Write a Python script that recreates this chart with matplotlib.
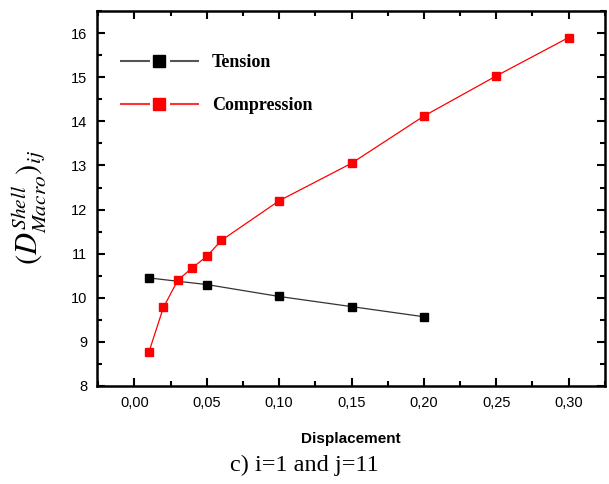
import matplotlib.pyplot as plt
from matplotlib.lines import Line2D
from matplotlib.ticker import MultipleLocator, FuncFormatter

# data
tension_x = [0.01, 0.05, 0.10, 0.15, 0.20]
tension_y = [10.45, 10.30, 10.03, 9.80, 9.57]

compression_x = [0.01, 0.02, 0.03, 0.04, 0.05, 0.06, 0.10, 0.15, 0.20, 0.25, 0.30]
compression_y = [8.77, 9.78, 10.40, 10.68, 10.94, 11.30, 12.20, 13.05, 14.12, 15.03, 15.90]

plt.rcParams['font.family'] = ['Liberation Sans', 'DejaVu Sans']
plt.rcParams['mathtext.fontset'] = 'stix'
plt.rcParams['lines.scale_dashes'] = False

fig = plt.figure(figsize=(6.09, 4.84), dpi=100)
ax = fig.add_axes([0.159, 0.2025, 0.834, 0.7745])

ax.plot(tension_x, tension_y, c="#333333", lw=0.9, marker="s", ms=5.5,
        mfc="black", mec="black")
ax.plot(compression_x, compression_y, c="red", lw=0.9, marker="s", ms=5.5,
        mfc="red", mec="red")

ax.set_xlim(-0.026, 0.325)
ax.set_ylim(8, 16.5)
ax.xaxis.set_major_locator(MultipleLocator(0.05))
ax.xaxis.set_minor_locator(MultipleLocator(0.025))
ax.yaxis.set_major_locator(MultipleLocator(1))
ax.yaxis.set_minor_locator(MultipleLocator(0.5))
ax.xaxis.set_major_formatter(FuncFormatter(lambda v, p: f"{v:.2f}".replace(".", ",")))

ax.tick_params(which="both", direction="in", top=True, right=True, width=1.5)
ax.tick_params(which="major", length=6, labelsize=10.5, pad=7)
ax.tick_params(which="minor", length=3.5)
for s in ax.spines.values():
    s.set_linewidth(1.8)

ax.set_xlabel("Displacement", fontsize=11, fontweight="bold", labelpad=16)
ax.set_ylabel(r"$(D^{Shell}_{Macro})_{ij}$", fontsize=22)
ax.yaxis.set_label_coords(-0.096, 0.475)

# legend handles: line with a gap around the marker
def handle(color, line_color):
    seg = Line2D([], [], c=line_color, lw=1.5, dashes=(21.6, 14.4))
    mk = Line2D([], [], ls="none", marker="s", ms=9, mfc=color, mec=color)
    return (seg, mk)

ax.legend([handle("black", "#555555"), handle("red", "#ff3333")],
          ["Tension", "Compression"],
          loc="upper left", bbox_to_anchor=(0.045, 0.885), frameon=False,
          borderpad=0, borderaxespad=0, handlelength=4.4, handletextpad=0.7,
          labelspacing=1.42,
          prop={"family": "Liberation Serif", "weight": "bold", "size": 13})

fig.text(0.5, 0.039, "c) i=1 and j=11", ha="center", va="center", fontsize=17.5,
         family="Liberation Serif")

fig.savefig("out.png", dpi=100)
